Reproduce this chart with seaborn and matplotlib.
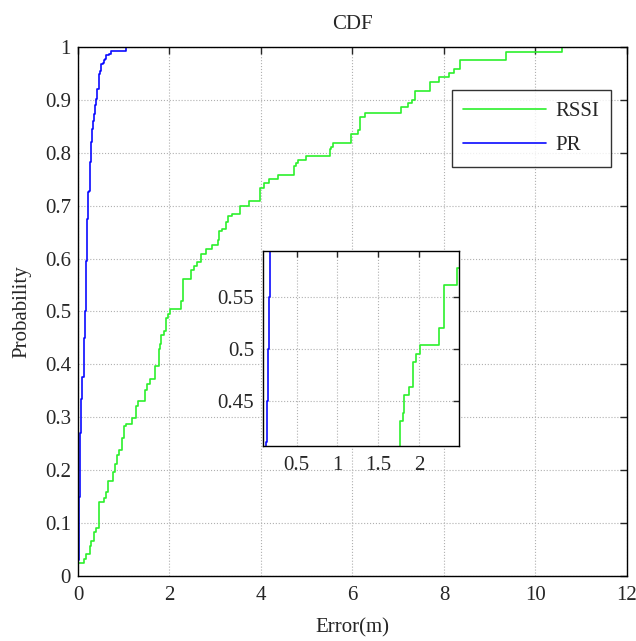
import numpy as np
import pandas as pd
import matplotlib
matplotlib.use("Agg")
import matplotlib.pyplot as plt
import seaborn as sns

# RSSI error CDF: jump positions (m) and CDF level after each jump
rssi_x = [0.00, 0.00, 0.125, 0.18, 0.26, 0.29, 0.35, 0.40, 0.46, 0.57, 0.61, 0.66, 0.76, 0.81,
          0.85, 0.90, 0.97, 1.01, 1.06, 1.17, 1.26, 1.32, 1.47, 1.51, 1.57, 1.69, 1.765,
          1.80, 1.82, 1.87, 1.92, 1.96, 2.01, 2.247, 2.30, 2.467, 2.53, 2.60, 2.68, 2.79,
          2.94, 3.05, 3.08, 3.14, 3.23, 3.28, 3.36, 3.54, 3.74, 3.98, 4.07, 4.18, 4.37,
          4.73, 4.77, 4.81, 4.99, 5.51, 5.54, 5.57, 5.96, 6.13, 6.17, 6.28, 7.05, 7.22,
          7.30, 7.36, 7.69, 7.90, 8.12, 8.23, 8.34, 9.36, 10.59]
rssi_p = [0.000, 0.024, 0.033, 0.041, 0.056, 0.067, 0.083, 0.091, 0.139, 0.147, 0.159, 0.180,
          0.196, 0.212, 0.229, 0.239, 0.260, 0.283, 0.288, 0.298, 0.321, 0.330, 0.352, 0.362,
          0.373, 0.397, 0.430, 0.438, 0.455, 0.463, 0.487, 0.495, 0.504, 0.520, 0.562, 0.578,
          0.586, 0.594, 0.609, 0.618, 0.626, 0.636, 0.652, 0.655, 0.669, 0.680, 0.684, 0.700,
          0.709, 0.733, 0.742, 0.750, 0.758, 0.775, 0.781, 0.786, 0.793, 0.808, 0.811, 0.818,
          0.835, 0.843, 0.868, 0.876, 0.886, 0.894, 0.900, 0.917, 0.933, 0.943, 0.951, 0.959,
          0.975, 0.991, 1.000]

# PR error CDF
pr_x = [0.000, 0.005, 0.015, 0.025, 0.037, 0.048, 0.059, 0.088, 0.125, 0.130, 0.140, 0.155,
        0.165, 0.180, 0.190, 0.204, 0.219, 0.240, 0.262, 0.277, 0.295, 0.313, 0.330, 0.350,
        0.375, 0.400, 0.420, 0.450, 0.480, 0.495, 0.554, 0.568, 0.590, 0.620, 0.680, 0.714,
        1.040]
pr_p = [0.000, 0.030, 0.091, 0.150, 0.206, 0.270, 0.334, 0.377, 0.384, 0.410, 0.450, 0.500,
        0.550, 0.595, 0.630, 0.675, 0.725, 0.728, 0.782, 0.797, 0.820, 0.845, 0.860, 0.873,
        0.890, 0.901, 0.920, 0.948, 0.955, 0.967, 0.969, 0.975, 0.978, 0.984, 0.986, 0.992,
        1.000]

x_ticks = [0, 2, 4, 6, 8, 10, 12]
y_ticks = [0, 0.1, 0.2, 0.3, 0.4, 0.5, 0.6, 0.7, 0.8, 0.9, 1.0]
y_tick_labels = ["0", "0.1", "0.2", "0.3", "0.4", "0.5", "0.6", "0.7", "0.8", "0.9", "1"]
inset_x_ticks = [0.5, 1, 1.5, 2]
inset_x_labels = ["0.5", "1", "1.5", "2"]
inset_y_ticks = [0.45, 0.5, 0.55]
inset_y_labels = ["0.45", "0.5", "0.55"]

df_rssi = pd.DataFrame({"x": rssi_x, "p": rssi_p, "series": "RSSI"})
df_pr = pd.DataFrame({"x": pr_x, "p": pr_p, "series": "PR"})

sns.set_style("white")
plt.rcParams["font.family"] = ["Liberation Serif", "DejaVu Serif"]
FS = 15
plt.rcParams["font.size"] = FS

GREEN = "#2cf02c"
BLUE = "#0a0aff"

fig = plt.figure(figsize=(6.36, 6.41), dpi=100)
ax = fig.add_axes([0.1226, 0.1014, 0.8632, 0.8253])


def style_axes(a):
    for s in a.spines.values():
        s.set_color("black")
        s.set_linewidth(1.0)
        s.set_visible(True)
    a.grid(True, linestyle=":", color="#b0b0b0", linewidth=0.8)
    a.set_axisbelow(True)


sns.lineplot(data=df_rssi, x="x", y="p", ax=ax, color=GREEN, linewidth=1.2,
             drawstyle="steps-post", estimator=None, sort=False, label="RSSI")
sns.lineplot(data=df_pr, x="x", y="p", ax=ax, color=BLUE, linewidth=1.2,
             drawstyle="steps-post", estimator=None, sort=False, label="PR")
ax.set_xlim(0, 12)
ax.set_ylim(0, 1)
ax.set_xticks(x_ticks)
ax.set_xticklabels([str(t) for t in x_ticks])
ax.set_yticks(y_ticks)
ax.set_yticklabels(y_tick_labels)
ax.tick_params(direction="in", top=True, right=True, length=5, width=1, labelsize=FS)
ax.tick_params(axis="x", pad=7)
ax.tick_params(axis="y", pad=5)
style_axes(ax)
ax.set_title("CDF", fontsize=FS, pad=13)
ax.set_xlabel("Error(m)", fontsize=FS, labelpad=10)
ax.set_ylabel("Probability", fontsize=FS, labelpad=10)

leg = ax.legend(loc="upper right", bbox_to_anchor=(0.971, 0.919), fontsize=FS,
                handlelength=4.0, frameon=True, fancybox=False, borderpad=0.55,
                labelspacing=0.7, handletextpad=0.45, borderaxespad=0.0)
leg.get_frame().set_edgecolor("black")
leg.get_frame().set_linewidth(1.0)

# inset
axi = fig.add_axes([0.413, 0.3042, 0.309, 0.3047])
sns.lineplot(data=df_rssi, x="x", y="p", ax=axi, color=GREEN, linewidth=1.2,
             drawstyle="steps-post", estimator=None, sort=False, legend=False)
sns.lineplot(data=df_pr, x="x", y="p", ax=axi, color=BLUE, linewidth=1.2,
             drawstyle="steps-post", estimator=None, sort=False, legend=False)
axi.set_xlim(0.085, 2.49)
axi.set_ylim(0.406, 0.595)
axi.set_xticks(inset_x_ticks)
axi.set_xticklabels(inset_x_labels)
axi.set_yticks(inset_y_ticks)
axi.set_yticklabels(inset_y_labels)
axi.tick_params(direction="in", top=True, right=True, length=4, width=1, labelsize=FS)
axi.tick_params(axis="x", pad=7)
axi.tick_params(axis="y", pad=6)
axi.set_xlabel("")
axi.set_ylabel("")
style_axes(axi)
axi.set_facecolor("white")

fig.savefig("out.png", dpi=100)
